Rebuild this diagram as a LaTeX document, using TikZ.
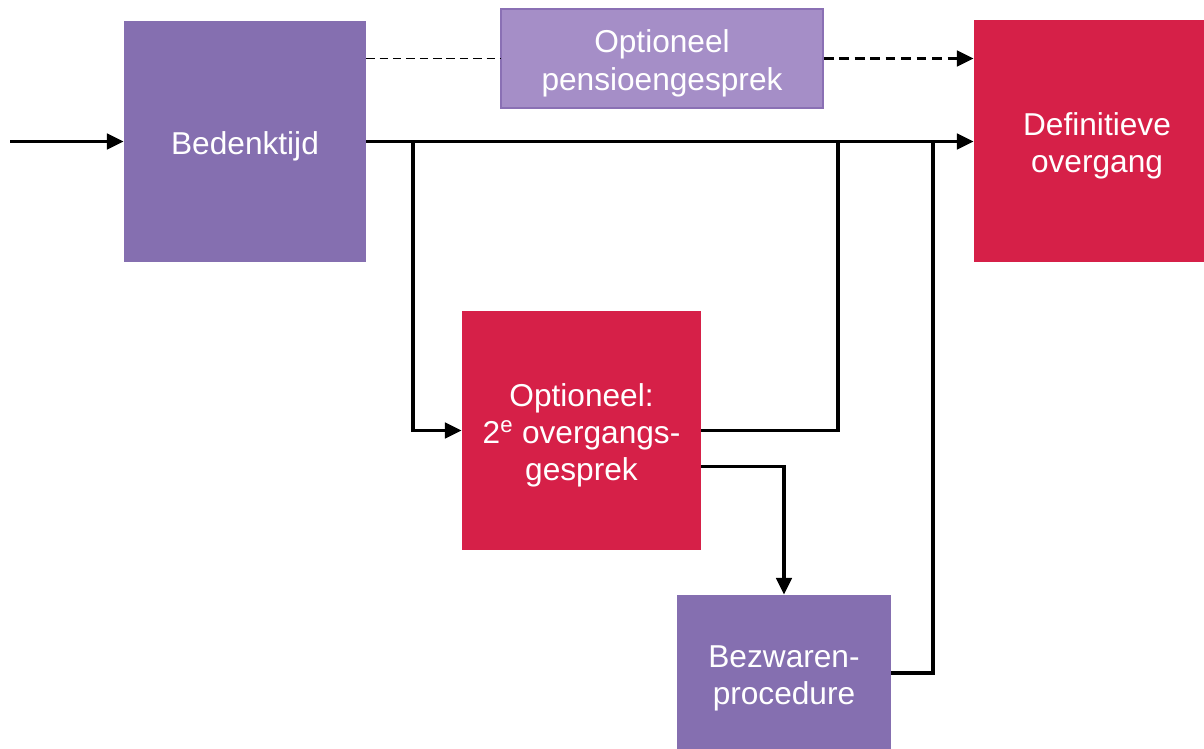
\documentclass[tikz,border=0pt]{standalone}
\usepackage{fontspec}
\setmainfont{Liberation Sans}
\usetikzlibrary{arrows.meta}
\definecolor{purp}{RGB}{133,111,176}
\definecolor{lpurp}{RGB}{165,142,199}
\definecolor{lpurpb}{RGB}{138,112,180}
\definecolor{red}{RGB}{214,32,72}
\newcommand\tstr{\rule{0pt}{23pt}}
\begin{document}
\begin{tikzpicture}[x=0.025cm,y=-0.025cm,
  box/.style={draw=none,inner sep=0pt,align=center,text=white,font=\fontsize{22.5}{26.5}\selectfont},
  conn/.style={line width=2.4pt},
  tip/.style={-{Triangle[length=12pt,width=11pt]}}]
\useasboundingbox (0,0) rectangle (1204,749);
\begin{scope}
\clip (0,0) rectangle (1204,749);
\node[box,fill=purp,minimum width=6.05cm,minimum height=6.025cm] (bed) at (245,141.5) {\tstr Bedenktijd};
\node[box,fill=lpurp,draw=lpurpb,line width=1pt,minimum width=8.05cm,minimum height=2.475cm] (pen) at (662,58.5) {\tstr Optioneel\\pensioengesprek};
\node[box,fill=red,minimum width=6.15cm,minimum height=6.05cm] (def) at (1097,141) {\tstr Definitieve\\overgang};
\node[box,fill=red,minimum width=5.975cm,minimum height=5.975cm] (opt) at (581.5,430.5) {\tstr Optioneel:\\2\textsuperscript{e} overgangs-\\gesprek};
\node[box,fill=purp,minimum width=5.35cm,minimum height=3.9cm] (bez) at (784,673) {\tstr Bezwaren-\\procedure};
\end{scope}
\coordinate (in) at (10,141.5);
\coordinate (j1) at (413,141.5);
\coordinate (j2) at (838,141.5);
\coordinate (j3) at (933,141.5);
\draw[conn,tip] (in) -- (bed.west);
\draw[conn,tip] (bed.east) -- (def.west |- bed.east);
\draw[conn,tip] (j1) |- (opt.west);
\draw[conn] (opt.east) -| (j2);
\draw[conn,tip] ([yshift=-0.9cm]opt.east) -| (bez.north);
\draw[conn] (bez.east) -| (j3);
\draw[line width=0.9pt,dash pattern=on 6pt off 3.5pt] (bed.east |- pen.west) -- (pen.west);
\draw[line width=2.4pt,dash pattern=on 7pt off 4pt,tip] (pen.east) -- (def.west |- pen.east);
\end{tikzpicture}
\end{document}
